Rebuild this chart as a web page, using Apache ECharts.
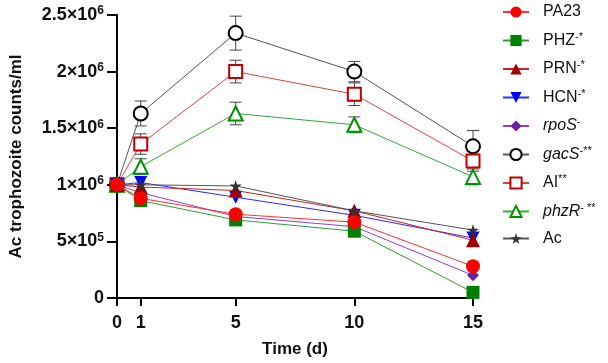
<!DOCTYPE html>
<html><head><meta charset="utf-8">
<script src="https://cdn.jsdelivr.net/npm/echarts@6/dist/echarts.min.js"></script>
<style>html,body{margin:0;padding:0;background:#fff}#c{width:608px;height:363px}</style>
</head><body><div id="c"></div>
<script>
var days = [0, 1, 5, 10, 15];
var xTicks = [0, 1, 5, 10, 15];
var PA23 = [1.0e6, 0.88e6, 0.74e6, 0.67e6, 0.28e6];
var PHZ  = [1.0e6, 0.86e6, 0.69e6, 0.59e6, 0.05e6];
var PRN  = [1.0e6, 0.98e6, 0.95e6, 0.77e6, 0.51e6];
var HCN  = [1.0e6, 1.02e6, 0.89e6, 0.73e6, 0.53e6];
var rpoS = [1.0e6, 0.93e6, 0.72e6, 0.63e6, 0.20e6];
var gacS = [1.0e6, 1.63e6, 2.34e6, 2.00e6, 1.34e6];
var AI   = [1.0e6, 1.36e6, 2.00e6, 1.80e6, 1.21e6];
var phzR = [1.0e6, 1.16e6, 1.63e6, 1.53e6, 1.07e6];
var Ac   = [1.0e6, 1.00e6, 0.99e6, 0.77e6, 0.60e6];
var gacSErr = [0, 0.11e6, 0.15e6, 0.09e6, 0.14e6];
var AIErr   = [0, 0.09e6, 0.10e6, 0.10e6, 0.09e6];
var phzRErr = [0, 0.07e6, 0.10e6, 0.07e6, 0.07e6];
var yTickLabels = {0:'{b|0}', 500000:'{b|5×10}{s|5}', 1000000:'{b|1×10}{s|6}', 1500000:'{b|1.5×10}{s|6}', 2000000:'{b|2×10}{s|6}', 2500000:'{b|2.5×10}{s|6}'};
var legendLabels = {
  'PA23':'{n|PA23}', 'PHZ':'{n|PHZ}{s|-*}', 'PRN':'{n|PRN}{s|-*}', 'HCN':'{n|HCN}{s|-*}',
  'rpoS':'{i|rpoS}{s|-}', 'gacS':'{i|gacS}{s|-**}', 'AI':'{n|AI}{s|**}', 'phzR':'{i|phzR}{s|- **}', 'Ac':'{n|Ac}'
};

var STAR = 'path://M50,0 L61,35 L98,35 L68,57 L79,91 L50,70 L21,91 L32,57 L2,35 L39,35 Z';
function pts(arr){ return days.map(function(d,i){ return [d, arr[i]]; }); }
function errPts(arr, err){ return days.map(function(d,i){ return [d, arr[i]-err[i], arr[i]+err[i]]; }).filter(function(p){return p[2]>p[1];}); }

function lineS(name, data, opt){
  return {
    name: name, type: 'line', data: pts(data), z: opt.z,
    symbol: opt.symbol, symbolSize: opt.size, symbolRotate: opt.rotate || 0,
    lineStyle: {color: opt.line, width: 1},
    itemStyle: {color: opt.fill, borderColor: opt.border || opt.fill, borderWidth: opt.bw || 0},
    emphasis: {disabled: true}, animation: false
  };
}
function errS(data, err, color){
  return {
    type: 'custom', data: errPts(data, err), z: 1, silent: true, animation: false,
    renderItem: function(params, api){
      var lo = api.coord([api.value(0), api.value(1)]);
      var hi = api.coord([api.value(0), api.value(2)]);
      var w = 6;
      var st = {stroke: color, lineWidth: 1};
      return {type: 'group', children: [
        {type:'line', shape:{x1:lo[0], y1:lo[1], x2:hi[0], y2:hi[1]}, style: st},
        {type:'line', shape:{x1:lo[0]-w, y1:lo[1], x2:lo[0]+w, y2:lo[1]}, style: st},
        {type:'line', shape:{x1:hi[0]-w, y1:hi[1], x2:hi[0]+w, y2:hi[1]}, style: st}
      ]};
    }
  };
}

var chart = echarts.init(document.getElementById('c'), null, {renderer: 'canvas'});
var FONT = 'Liberation Sans, Arial, sans-serif';
chart.setOption({
  animation: false,
  backgroundColor: '#fff',
  grid: {left: 115, right: 135, top: 15, bottom: 63},
  legend: {
    orient: 'vertical', left: 497, top: -1, itemWidth: 26, itemHeight: 14, itemGap: 11,
    data: ['PA23','PHZ','PRN','HCN','rpoS','gacS','AI','phzR','Ac'],
    formatter: function(n){ return legendLabels[n]; },
    textStyle: {
      fontFamily: FONT, fontSize: 16, color: '#111', padding: [0, 0, 0, 9],
      rich: {
        n: {fontFamily: FONT, fontSize: 16, color: '#111'},
        i: {fontFamily: FONT, fontSize: 16, fontStyle: 'italic', color: '#111'},
        s: {fontFamily: FONT, fontSize: 11, color: '#111', verticalAlign: 'bottom', padding: [0,0,8,0]}
      }
    }
  },
  xAxis: {
    type: 'value', min: 0, max: 15, interval: 1,
    name: 'Time (d)', nameLocation: 'middle', nameGap: 43,
    nameTextStyle: {fontFamily: FONT, fontSize: 17, fontWeight: 'bold', color: '#111'},
    axisLine: {lineStyle: {color: '#000', width: 2}},
    axisTick: {length: 8, lineStyle: {color: '#000', width: 2}, customValues: xTicks},
    axisLabel: {customValues: xTicks, margin: 16, fontFamily: FONT, fontSize: 18, fontWeight: 'bold', color: '#111'},
    splitLine: {show: false}
  },
  yAxis: {
    type: 'value', min: 0, max: 2500000, interval: 500000,
    name: 'Ac trophozoite counts/ml', nameLocation: 'middle', nameGap: 92, nameRotate: 90,
    nameTextStyle: {fontFamily: FONT, fontSize: 17, fontWeight: 'bold', color: '#111'},
    axisLine: {show: true, lineStyle: {color: '#000', width: 2}},
    axisTick: {show: true, length: 10, lineStyle: {color: '#000', width: 2}},
    axisLabel: {
      margin: 13, fontFamily: FONT, fontSize: 18, fontWeight: 'bold', color: '#111',
      formatter: function(v){ return yTickLabels[v] || ''; },
      rich: {
        b: {fontFamily: FONT, fontSize: 18, fontWeight: 'bold', color: '#111'},
        s: {fontFamily: FONT, fontSize: 12, fontWeight: 'bold', color: '#111', verticalAlign: 'bottom', padding: [0,0,8,0]}
      }
    },
    splitLine: {show: false}
  },
  series: [
    errS(gacS, gacSErr, '#444'),
    errS(AI, AIErr, '#444'),
    errS(phzR, phzRErr, '#444'),
    lineS('PA23', PA23, {z: 20, symbol: 'circle', size: 14, line: '#ff3030', fill: '#ff0000'}),
    lineS('PHZ', PHZ, {z: 12, symbol: 'rect', size: 13, line: '#2e9e2e', fill: '#008000'}),
    lineS('PRN', PRN, {z: 14, symbol: 'triangle', size: 14, line: '#cc2222', fill: '#a00000'}),
    lineS('HCN', HCN, {z: 13, symbol: 'triangle', rotate: 180, size: 13, line: '#2a2aff', fill: '#0000ff'}),
    lineS('rpoS', rpoS, {z: 11, symbol: 'diamond', size: 12, line: '#9040c0', fill: '#7020a0'}),
    lineS('gacS', gacS, {z: 10, symbol: 'circle', size: 14, line: '#555555', fill: '#ffffff', border: '#000000', bw: 2}),
    lineS('AI', AI, {z: 10, symbol: 'rect', size: 13, line: '#e04040', fill: '#ffffff', border: '#c00000', bw: 2}),
    lineS('phzR', phzR, {z: 10, symbol: 'triangle', size: 14, line: '#33aa33', fill: '#ffffff', border: '#009000', bw: 2}),
    lineS('Ac', Ac, {z: 15, symbol: STAR, size: 12, line: '#555555', fill: '#333333'})
  ]
});
</script></body></html>
